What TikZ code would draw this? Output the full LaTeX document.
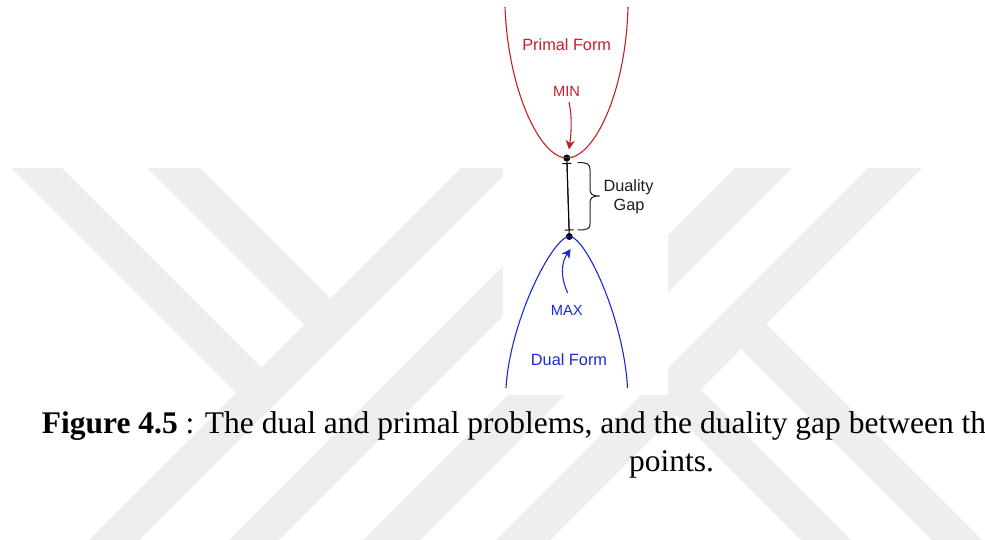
\documentclass[tikz,border=0pt]{standalone}
\usepackage{fontspec}
\setmainfont{Liberation Serif}
\newfontfamily\diasans{Liberation Sans}
\usetikzlibrary{arrows.meta}
\definecolor{wmgray}{RGB}{238,238,238}
\definecolor{primred}{RGB}{196,32,40}
\definecolor{dualblue}{RGB}{28,42,214}
\definecolor{gaptext}{RGB}{30,30,30}
\begin{document}
\begin{tikzpicture}[x=1pt,y=-1pt,
  wmband/.style={fill=wmgray},
  curvep/.style={draw=primred,line width=1.1pt},
  curved/.style={draw=dualblue,line width=1.1pt},
  lblbig/.style={font=\diasans\fontsize{16.3}{19}\selectfont, anchor=base, inner sep=0pt},
  lblsmall/.style={font=\diasans\fontsize{14.7}{17}\selectfont, anchor=base, inner sep=0pt},
  dotnode/.style={circle,fill=black,inner sep=0pt,minimum size=7pt},
  captxt/.style={font=\fontsize{31.5}{36}\selectfont, anchor=base west, inner sep=0pt},
  ptr/.style={line width=1.1pt, -{Stealth[length=9pt,width=9pt,inset=2.5pt]}}
]
\useasboundingbox (0,0) rectangle (985,539);
\fill[white] (0,0) rectangle (985,539);

% watermark
\begin{scope}
  \clip (0,168) rectangle (985,539);
  \fill[wmband] (529,100) -- (579,100) -- (19,660) -- (-31,660) -- cycle;
  \fill[wmband] (-6,150) -- (44,150) -- (274,380) -- (249,405) -- cycle;
  \fill[wmband] (130,150) -- (182,150) -- (343,311) -- (317,337) -- cycle;
  \fill[wmband] (619,150) -- (669,150) -- (259,560) -- (209,560) -- cycle;
  \fill[wmband] (753,150) -- (810,150) -- (400,560) -- (343,560) -- cycle;
  \fill[wmband] (886,150) -- (940,150) -- (530,560) -- (476,560) -- cycle;
  \fill[wmband] (752.5,310.5) -- (1042,600) -- (992,600) -- (727.5,335.5) -- cycle;
  \fill[wmband] (687,376) -- (911,600) -- (861,600) -- (662,401) -- cycle;
\end{scope}

% figure background
\fill[white] (503,0) rectangle (668,395);

% primal curve
\coordinate (pl) at (505,7);
\coordinate (pr) at (628,7);
\node[dotnode] (pmin) at (566.8,158) {};
\draw[curvep] (pl) .. controls (508,90) and (540,158) .. (pmin.center)
  .. controls (595,158) and (626,90) .. (pr);

% dual curve
\coordinate (dl) at (506,388);
\coordinate (dr) at (627.5,388);
\node[dotnode] (dmax) at (569.3,236.5) {};
\draw[curved] (dl) .. controls (510,320) and (553,236.5) .. (dmax.center)
  .. controls (586,236.5) and (624,320) .. (dr);

% gap line
\draw[line width=1pt] (pmin.center) -- (dmax.center);
\draw[line width=1pt, {Bar[width=9pt]}-{Bar[width=9pt]}, shorten <=5pt, shorten >=6pt] (pmin.center) -- (dmax.center);

% brace
\draw[line width=1pt, gaptext] (577.5,162.5) .. controls (588,162.5) and (590,164) .. (590,170)
  -- (590,189) .. controls (590,194) and (592,196) .. (599.5,196)
  .. controls (592,196) and (590,198) .. (590,203)
  -- (590,224) .. controls (590,228.5) and (588,230) .. (577.5,230);

% labels
\node[lblbig, primred] (primal) at (566.7,50) {Primal Form};
\node[lblsmall, primred] (minl) at (566.5,96.7) {MIN};
\node[lblbig, gaptext] (duality) at (628.5,191) {Duality};
\node[lblbig, gaptext] (gapl) at (629,210) {Gap};
\node[lblsmall, dualblue] (maxl) at (566.7,315) {MAX};
\node[lblbig, dualblue] (dual) at (569,365) {Dual Form};

% pointer arrows
\coordinate (mintail) at (569,102);
\coordinate (mintip) at (569,149.5);
\draw[ptr, primred] (mintail) .. controls (572.5,118) and (571,135) .. (mintip);
\coordinate (maxtail) at (567.7,293);
\coordinate (maxtip) at (570.7,249);
\draw[ptr, dualblue] (maxtail) .. controls (560,276) and (561.5,262) .. (maxtip);

% caption
\node[captxt] (cap1) at (41.7,433.3) {\textbf{Figure 4.5} : The dual and primal problems, and the duality gap between th};
\node[captxt] (cap2) at (629,471.7) {points.};
\end{tikzpicture}
\end{document}
